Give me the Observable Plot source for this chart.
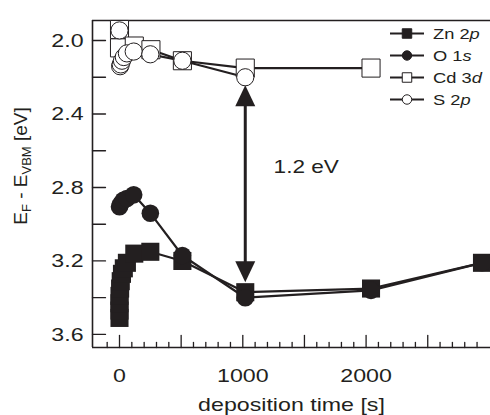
<!DOCTYPE html>
<html>
<head>
<meta charset="utf-8">
<script src="https://cdn.jsdelivr.net/npm/d3@7"></script>
<script src="https://cdn.jsdelivr.net/npm/@observablehq/plot@0.6"></script>
<style>
  html, body { margin: 0; padding: 0; background: #fff; }
  #chart { width: 490px; height: 415px; overflow: hidden; }
</style>
</head>
<body>
<div id="chart"></div>
<script>
// Fermi level position relative to the valence band maximum vs. deposition time
const seriesNames = ["Zn 2p", "O 1s", "Cd 3d", "S 2p"];

const znTime  = [0, 0, 0, 0, 5, 10, 20, 35, 60, 120, 250, 510, 1020, 2040, 2940];
const znValue = [3.51, 3.47, 3.43, 3.39, 3.35, 3.31, 3.27, 3.24, 3.21, 3.16, 3.15, 3.20, 3.37, 3.35, 3.21];

const oTime  = [0, 10, 30, 60, 115, 250, 510, 1020, 2040, 2940];
const oValue = [2.905, 2.89, 2.87, 2.86, 2.84, 2.94, 3.17, 3.40, 3.36, 3.21];

const cdTime  = [0, 0, 120, 255, 510, 1020, 2040];
const cdValue = [1.94, 2.04, 2.03, 2.05, 2.11, 2.15, 2.15];

const sTime  = [0, 5, 10, 20, 35, 60, 115, 250, 510, 1020];
const sValue = [1.945, 2.14, 2.13, 2.11, 2.09, 2.07, 2.06, 2.075, 2.11, 2.20];

const xLabelTicks = [0, 1000, 2000];
const xMajorTicks = [0, 500, 1000, 1500, 2000, 2500];
const xMinorTicks = d3.range(-100, 3001, 100).filter(t => t % 500 !== 0);
const yLabelTicks = [2.0, 2.4, 2.8, 3.2, 3.6];
const yAllTicks   = [2.0, 2.2, 2.4, 2.6, 2.8, 3.0, 3.2, 3.4, 3.6];

const xTitle = "deposition time [s]";
const xDomain = [-219, 3009];
const yDomain = [3.671, 1.891];

const ink = "#231f20";
const fontFamily = "'Liberation Sans', Arial, Helvetica, sans-serif";

const rows = (time, value) => time.map((t, i) => ({t, v: value[i]}));
const zn = rows(znTime, znValue);
const ox = rows(oTime, oValue);
const cd = rows(cdTime, cdValue);
const su = rows(sTime, sValue);

// the band offset arrow sits at the 1020 s measurement
const arrowT = 1020;
const arrowTop = sValue[sTime.indexOf(arrowT)];
const arrowBottom = znValue[znTime.indexOf(arrowT)];
const gapLabel = d3.format(".1f")(arrowBottom - arrowTop) + " eV";

const tickShape = {draw(ctx, l) { ctx.moveTo(0, 0); ctx.lineTo(0, -l); }};

const lineOpts = {x: "t", y: "v", stroke: ink, strokeWidth: 2.2, strokeLinejoin: "round"};

const chart = Plot.plot({
  width: 490,
  height: 415,
  marginLeft: 92,
  marginRight: 0,
  marginTop: 20,
  marginBottom: 68,
  x: {domain: xDomain},
  y: {domain: yDomain},
  style: {fontFamily, fontSize: "19px", color: ink, background: "#fff"},
  marks: [
    // frame: left, top, bottom
    Plot.ruleX([xDomain[0]], {stroke: ink, strokeWidth: 1.6}),
    Plot.ruleY([yDomain[0]], {stroke: ink, strokeWidth: 1.6}),
    Plot.ruleY([yDomain[1]], {stroke: ink, strokeWidth: 1.6}),
    // inward ticks
    Plot.vectorY(yAllTicks, {y: d => d, frameAnchor: "left", rotate: 90, length: 13, anchor: "start", shape: tickShape, stroke: ink, strokeWidth: 1.3}),
    Plot.vectorX(xMajorTicks, {x: d => d, frameAnchor: "bottom", rotate: 0, length: 12, anchor: "start", shape: tickShape, stroke: ink, strokeWidth: 1.3}),
    Plot.vectorX(xMinorTicks, {x: d => d, frameAnchor: "bottom", rotate: 0, length: 5, anchor: "start", shape: tickShape, stroke: ink, strokeWidth: 1.3}),
    Plot.axisY({ticks: yLabelTicks, tickSize: 0, tickPadding: 9, tickFormat: d3.format(".1f"), label: null, fill: ink}),
    Plot.axisX({ticks: xLabelTicks, tickSize: 0, tickPadding: 21, tickFormat: d3.format("d"), label: null, fill: ink}),
    Plot.text([xTitle], {text: d => d, frameAnchor: "bottom", dy: 57, lineAnchor: "middle", fill: ink, fontSize: 19}),
    // series lines
    Plot.line(zn, lineOpts),
    Plot.line(ox, lineOpts),
    Plot.line(cd, lineOpts),
    Plot.line(su, lineOpts),
    // markers
    Plot.dot(zn, {x: "t", y: "v", symbol: "square", r: 10.2, fill: ink, stroke: null}),
    Plot.dot(ox, {x: "t", y: "v", symbol: "circle", r: 8.8, fill: ink, stroke: null}),
    Plot.dot(cd, {x: "t", y: "v", symbol: "square", r: 10.2, fill: "#fff", stroke: ink, strokeWidth: 1}),
    Plot.dot(su, {x: "t", y: "v", symbol: "circle", r: 8.6, fill: "#fff", stroke: ink, strokeWidth: 1}),
    // double-headed arrow between S 2p and Zn 2p at 1020 s
    Plot.ruleX([arrowT], {y1: arrowTop, y2: arrowBottom, insetTop: 20, insetBottom: 20, stroke: ink, strokeWidth: 3}),
    Plot.vector([arrowT], {x: d => d, y: arrowTop, dy: 8, rotate: 0, length: 21, r: 10, anchor: "end", shape: "spike", fill: ink, stroke: "none"}),
    Plot.vector([arrowT], {x: d => d, y: arrowBottom, dy: -10, rotate: 180, length: 21, r: 10, anchor: "end", shape: "spike", fill: ink, stroke: "none"}),
    Plot.text([gapLabel], {x: 1250, y: 2.69, text: d => d, textAnchor: "start", lineAnchor: "middle", fill: ink, fontSize: 18.5})
  ]
});

document.getElementById("chart").append(chart);

const svg = d3.select(chart);
const widen = 1.22;

// legend, top right inside the frame
const legendStyles = [
  {symbol: d3.symbolSquare, size: 90, fill: ink},
  {symbol: d3.symbolCircle, size: 70, fill: ink},
  {symbol: d3.symbolSquare, size: 90, fill: "#fff"},
  {symbol: d3.symbolCircle, size: 70, fill: "#fff"}
];
const legend = svg.append("g").attr("class", "legend");
seriesNames.forEach((name, i) => {
  const y = 33.5 + i * 22;
  const g = legend.append("g").attr("transform", `translate(0,${y})`);
  g.append("line").attr("x1", 390).attr("x2", 424).attr("y1", 0).attr("y2", 0)
    .attr("stroke", ink).attr("stroke-width", 2);
  g.append("path").attr("d", d3.symbol(legendStyles[i].symbol, legendStyles[i].size)())
    .attr("transform", "translate(407,0)")
    .attr("fill", legendStyles[i].fill).attr("stroke", ink).attr("stroke-width", 1);
  const [head, tail] = [name.slice(0, -1), name.slice(-1)];
  const t = g.append("text").attr("x", 0).attr("y", 0).attr("dy", "0.35em")
    .attr("text-anchor", "start")
    .attr("transform", `translate(433,0) scale(${widen},1)`)
    .attr("font-size", 15).attr("fill", ink).attr("class", "nostretch");
  t.append("tspan").text(head);
  t.append("tspan").attr("font-style", "italic").text(tail);
});

// y axis title with subscripts
const yTitle = svg.append("text")
  .attr("transform", "translate(27,166) rotate(-90)")
  .attr("text-anchor", "middle")
  .attr("font-size", 19)
  .attr("fill", ink)
  .attr("class", "nostretch");
yTitle.append("tspan").text("E");
yTitle.append("tspan").attr("font-size", 13).attr("dy", 4).text("F");
yTitle.append("tspan").attr("dy", -4).text(" - E");
yTitle.append("tspan").attr("font-size", 13).attr("dy", 4).text("VBM");
yTitle.append("tspan").attr("dy", -4).text(" [eV]");

// widen horizontal lettering
chart.querySelectorAll("text").forEach(el => {
  if (el.classList.contains("nostretch")) return;
  const w = el.getComputedTextLength();
  if (w > 0) {
    el.setAttribute("textLength", (w * widen).toFixed(1));
    el.setAttribute("lengthAdjust", "spacingAndGlyphs");
  }
});
</script>
</body>
</html>
